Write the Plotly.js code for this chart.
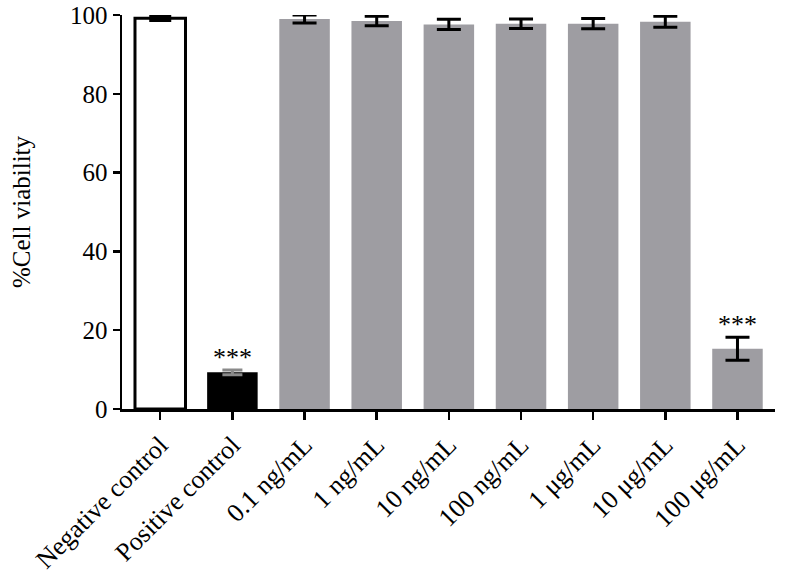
<!DOCTYPE html>
<html>
<head>
<meta charset="utf-8">
<script src="https://cdn.plot.ly/plotly-3.0.1.min.js"></script>
<style>html,body{margin:0;padding:0;background:#fff;}#chart{width:786px;height:577px;}</style>
</head>
<body>
<div id="chart"></div>
<script>
const categories = ["Negative control","Positive control","0.1 ng/mL","1 ng/mL","10 ng/mL","100 ng/mL","1 μg/mL","10 μg/mL","100 μg/mL"];
const negValues = [99.2];
const negErrors = [0.6];
const posValues = [9.3];
const posErrors = [0.6];
const grayCats = categories.slice(2);
const grayValues = [99.0, 98.5, 97.6, 97.8, 97.8, 98.3, 15.3];
const grayErrors = [1.0, 1.2, 1.3, 1.2, 1.3, 1.4, 2.9];
const sigCats = ["Positive control","100 μg/mL"];
const sigY = [posValues[0] + posErrors[0], grayValues[6] + grayErrors[6]];
const sigText = ["***","***"];

const font = "Liberation Serif, Times New Roman, serif";

const traces = [
  {type:'bar', x:[categories[0]], y:negValues, width:0.7,
   marker:{color:'#ffffff', line:{color:'#000', width:3}},
   error_y:{type:'data', array:negErrors, visible:true, color:'#000', thickness:3, width:11}},
  {type:'bar', x:[categories[1]], y:posValues, width:0.7,
   marker:{color:'#000000', line:{width:0}},
   error_y:{type:'data', array:posErrors, visible:true, color:'#8a8a8a', thickness:3, width:10}},
  {type:'bar', x:grayCats, y:grayValues, width:0.7,
   marker:{color:'#9e9da2', line:{width:0}},
   error_y:{type:'data', array:grayErrors, visible:true, color:'#000', thickness:3, width:12}}
];

const annotations = sigCats.map((c,i)=>({
  x:c, y:sigY[i], xref:'x', yref:'y', text:sigText[i], showarrow:false,
  yanchor:'bottom', yshift:-4, font:{family:font, size:26, color:'#000'}
}));

const layout = {
  width:786, height:577,
  margin:{l:122, r:11, t:15, b:168},
  paper_bgcolor:'#fff', plot_bgcolor:'#fff',
  showlegend:false,
  barmode:'overlay',
  font:{family:font, size:25, color:'#000'},
  xaxis:{type:'category', categoryorder:'array', categoryarray:categories,
    range:[-0.53, 8.52], showline:true, linecolor:'#000', linewidth:2.5,
    ticks:'outside', ticklen:8, tickwidth:2.5, tickcolor:'#000',
    tickangle:-45, tickfont:{family:font, size:26, color:'#000'},
    showgrid:false, zeroline:false, fixedrange:true},
  yaxis:{range:[0,100], tickvals:[0,20,40,60,80,100],
    showline:true, linecolor:'#000', linewidth:2.5,
    ticks:'outside', ticklen:7, tickwidth:2.5, tickcolor:'#000',
    tickfont:{family:font, size:25, color:'#000'},
    showgrid:false, zeroline:false,
    title:{text:'%Cell viability', font:{family:font, size:25, color:'#000'}, standoff:33}},
  annotations:annotations
};

Plotly.newPlot('chart', traces, layout, {displayModeBar:false, staticPlot:true});
</script>
</body>
</html>
